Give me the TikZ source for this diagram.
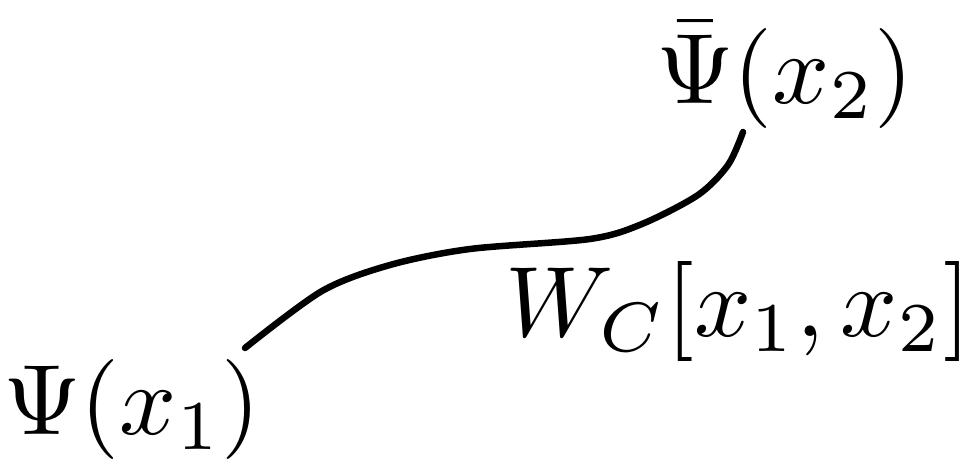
\documentclass[tikz,border=0pt]{standalone}
\usepackage{amsmath}
\begin{document}
\begin{tikzpicture}[x=0.1pt,y=-0.1pt,
  lbl/.style={inner sep=0pt,font=\fontsize{9.6}{12}\selectfont},
  wline/.style={line width=0.65pt,line cap=round,line join=round}]
\useasboundingbox (0,0) rectangle (979,460);
\node[lbl] (psibar) at (785,75) {$\bar\Psi(x_2)$};
\node[lbl] (wc) at (738,312) {$W_C[x_1,x_2]$};
\node[lbl] (psi) at (132,410) {$\Psi(x_1)$};
\coordinate (start) at (245,348);
\coordinate (end) at (743,132);
\draw[wline] plot[smooth,tension=0.5] coordinates {(start) (322,291) (390,265) (470,249) (590,239) (642,224) (698,195) (728,165) (end)};
\end{tikzpicture}
\end{document}
